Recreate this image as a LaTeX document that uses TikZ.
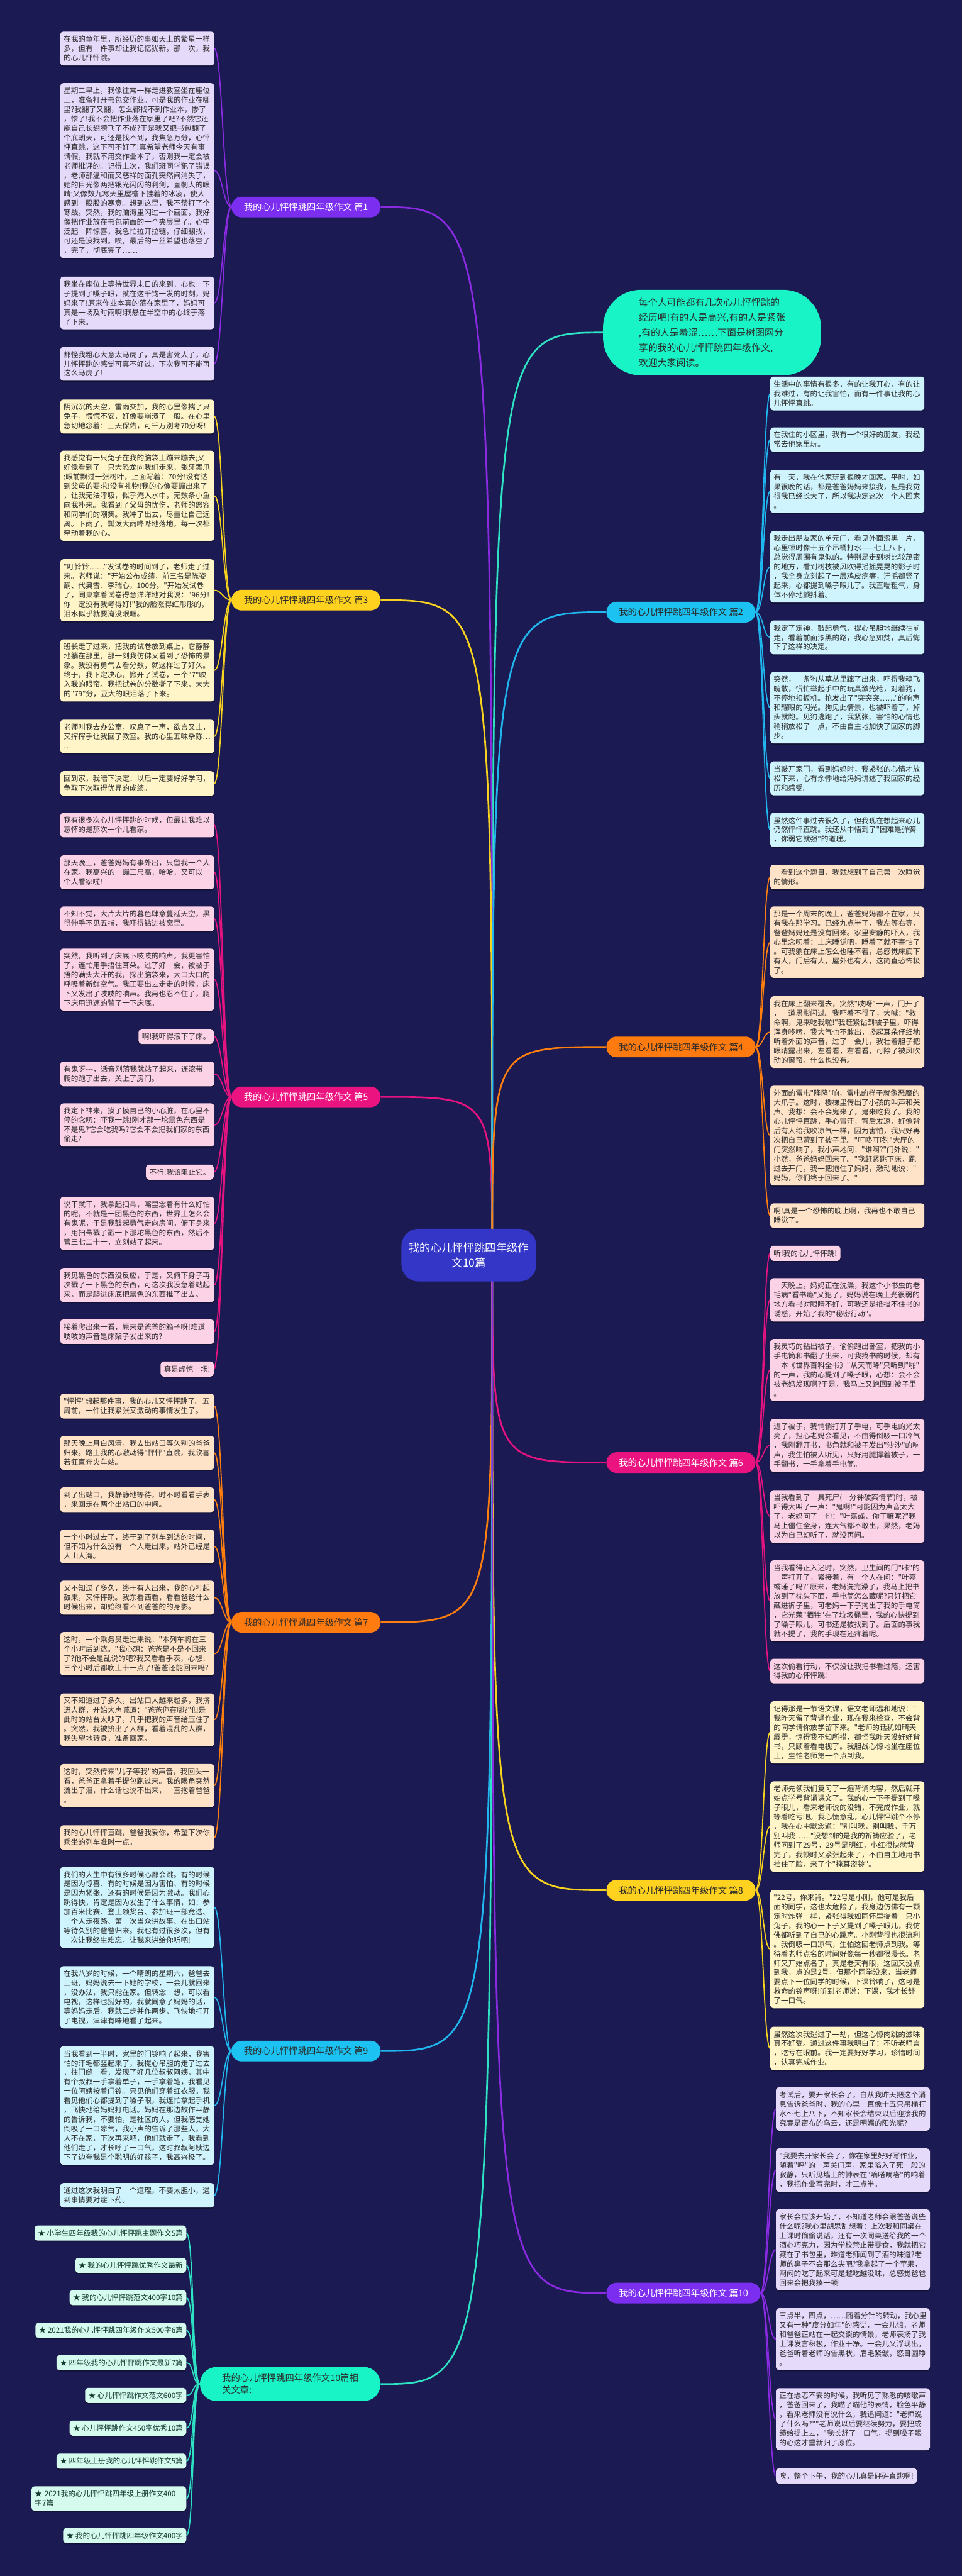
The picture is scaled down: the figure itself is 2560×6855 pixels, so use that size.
\documentclass[tikz,border=0pt]{standalone}
\usepackage{fontspec}
\newfontfamily\cjk{Noto Sans CJK SC}
\usetikzlibrary{shadows}
\pgfdeclarelayer{bgl}
\pgfdeclarelayer{edges}
\pgfsetlayers{bgl,edges,main}
\definecolor{bgc}{HTML}{1B1A52}
\definecolor{txtc}{HTML}{2A2A2A}
\definecolor{relt}{HTML}{123A30}
% line / pill / box colours
\definecolor{lP}{HTML}{8A2BE2}\definecolor{pP}{HTML}{7B2EF0}\definecolor{bP}{HTML}{E6DAFB}
\definecolor{lY}{HTML}{F7D21E}\definecolor{pY}{HTML}{FFD21F}\definecolor{bY}{HTML}{FFF5C8}
\definecolor{lK}{HTML}{E5137F}\definecolor{pK}{HTML}{EA1380}\definecolor{bK}{HTML}{FCD2E6}
\definecolor{lO}{HTML}{FF7F0E}\definecolor{pO}{HTML}{FF7B0F}\definecolor{bO}{HTML}{FFE3C8}
\definecolor{lC}{HTML}{1FB7EE}\definecolor{pC}{HTML}{1CC2F2}\definecolor{bC}{HTML}{D0F4FD}
\definecolor{lM}{HTML}{2DE3C3}\definecolor{pM}{HTML}{19F4C6}\definecolor{bM}{HTML}{D5FBEF}
\definecolor{cN}{HTML}{3436C8}
\tikzset{
  tb/.style={rectangle, rounded corners=8pt, inner xsep=9pt, inner ysep=11pt, align=left,
    font=\cjk\fontsize{19.5}{25}\selectfont, text=txtc,
    drop shadow={shadow xshift=0pt, shadow yshift=-3pt, opacity=.35, fill=black}},
  wb/.style={tb, text width=392pt, anchor=north west},
  sl/.style={tb, anchor=north east},
  sr/.style={tb, anchor=north west},
  rel/.style={tb, anchor=north east, text=relt, fill=bM},
  pill/.style={rectangle, rounded corners=27pt, minimum height=55pt, inner xsep=33pt, inner ysep=12pt,
    font=\cjk\fontsize{24}{29}\selectfont},
  pillL/.style={pill, anchor=east},
  pillR/.style={pill, anchor=west},
  mline/.style={line width=4.5pt},
  cline/.style={line width=3pt},
}
\newcommand\conL[3]{\draw[cline,#3] (#1.west) .. controls ([xshift=-21pt]#1.west) and ([xshift=21pt]#2.east) .. (#2.east);}
\newcommand\conR[3]{\draw[cline,#3] (#1.east) .. controls ([xshift=20pt]#1.east) and ([xshift=-18pt]#2.west) .. (#2.west);}
\begin{document}
\begin{tikzpicture}[x=1pt,y=-1pt]
\begin{pgfonlayer}{bgl}
\fill[bgc] (0,0) rectangle (2560,6855);
\end{pgfonlayer}
\useasboundingbox (0,0) rectangle (2560,6855);

% ---------------- centre and intro ----------------
\node[rectangle, rounded corners=45pt, fill=cN, text=white, minimum height=140pt, inner xsep=20pt, inner ysep=30pt,
  align=center, font=\cjk\fontsize{29}{40}\selectfont] (c) at (1248,3340) {我的心儿怦怦跳四年级作\\文10篇};
\coordinate (hub) at ([xshift=62pt]c.center);
\node[rectangle, rounded corners=100pt, fill=pM, text=txtc, anchor=west, inner xsep=95pt, inner ysep=22pt,
  align=left, font=\cjk\fontsize{25}{40}\selectfont] (intro) at (1605,885)
  {每个人可能都有几次心儿怦怦跳的\\经历吧!有的人是高兴,有的人是紧张\\,有的人是羞涩……下面是树图网分\\享的我的心儿怦怦跳四年级作文,\\欢迎大家阅读。};

% ---------------- pills ----------------
\node[pillL, fill=pP, text=white] (p1) at (1013,551) {我的心儿怦怦跳四年级作文 篇1};
\node[pillL, fill=pY, text=txtc] (p3) at (1013,1597) {我的心儿怦怦跳四年级作文 篇3};
\node[pillL, fill=pK, text=white] (p5) at (1013,2919) {我的心儿怦怦跳四年级作文 篇5};
\node[pillL, fill=pO, text=txtc] (p7) at (1013,4317) {我的心儿怦怦跳四年级作文 篇7};
\node[pillL, fill=pC, text=txtc] (p9) at (1013,5458) {我的心儿怦怦跳四年级作文 篇9};
\node[pill, anchor=east, fill=pM, text=txtc, rounded corners=45pt, minimum height=91pt, inner xsep=59pt,
  align=left, font=\cjk\fontsize{24}{31}\selectfont] (pr) at (1013,6344) {我的心儿怦怦跳四年级作文10篇相\\关文章:};
\node[pillR, fill=pC, text=txtc] (p2) at (1614,1629) {我的心儿怦怦跳四年级作文 篇2};
\node[pillR, fill=pO, text=txtc] (p4) at (1614,2786) {我的心儿怦怦跳四年级作文 篇4};
\node[pillR, fill=pK, text=white] (p6) at (1614,3892) {我的心儿怦怦跳四年级作文 篇6};
\node[pillR, fill=pY, text=txtc] (p8) at (1614,5030) {我的心儿怦怦跳四年级作文 篇8};
\node[pillR, fill=pP, text=white] (p10) at (1614,6102) {我的心儿怦怦跳四年级作文 篇10};

% ---------------- 篇1 ----------------
\node[wb, fill=bP] (b1a) at (160,84) {在我的童年里，所经历的事如天上的繁星一样\\多，但有一件事却让我记忆犹新，那一次，我\\的心儿怦怦跳。};
\node[wb, fill=bP] (b1b) at (160,221) {星期二早上，我像往常一样走进教室坐在座位\\上，准备打开书包交作业。可是我的作业在哪\\里?我翻了又翻，怎么都找不到作业本，惨了\\，惨了!我不会把作业落在家里了吧?不然它还\\能自己长翅膀飞了不成?于是我又把书包翻了\\个底朝天，可还是找不到，我焦急万分，心怦\\怦直跳，这下可不好了!真希望老师今天有事\\请假，我就不用交作业本了，否则我一定会被\\老师批评的。记得上次，我们班同学犯了错误\\，老师那温和而又慈祥的面孔突然间消失了，\\她的目光像两把银光闪闪的利剑，直刺人的眼\\睛;又像数九寒天里屋檐下挂着的冰凌，使人\\感到一股股的寒意。想到这里，我不禁打了个\\寒战。突然，我的脑海里闪过一个画面，我好\\像把作业放在书包前面的一个夹层里了。心中\\泛起一阵惊喜，我急忙拉开拉链，仔细翻找，\\可还是没找到。唉，最后的一丝希望也落空了\\，完了，彻底完了……};
\node[wb, fill=bP] (b1c) at (160,736) {我坐在座位上等待世界末日的来到，心也一下\\子提到了嗓子眼，就在这千钧一发的时刻，妈\\妈来了!原来作业本真的落在家里了，妈妈可\\真是一场及时雨啊!我悬在半空中的心终于落\\了下来。};
\node[wb, fill=bP] (b1d) at (160,923) {都怪我粗心大意太马虎了，真是害死人了，心\\儿怦怦跳的感觉可真不好过，下次我可不能再\\这么马虎了!};

% ---------------- 篇3 ----------------
\node[wb, fill=bY] (b3a) at (160,1063) {阴沉沉的天空，雷雨交加，我的心里像揣了只\\兔子，慌慌不安，好像要崩溃了一般。在心里\\急切地念着：上天保佑，可千万别考70分呀!};
\node[wb, fill=bY] (b3b) at (160,1199) {我感觉有一只兔子在我的脑袋上蹦来蹦去;又\\好像看到了一只大恐龙向我们走来，张牙舞爪\\;眼前飘过一张树叶，上面写着：70分!没有达\\到父母的要求!没有礼物!我的心像要蹦出来了\\，让我无法呼吸，似乎淹入水中，无数条小鱼\\向我扑来。我看到了父母的忧伤，老师的怒容\\和同学们的嘲笑。我冲了出去，尽量让自己远\\离。下雨了，瓢泼大雨哗哗地落地，每一次都\\牵动着我的心。};
\node[wb, fill=bY] (b3c) at (160,1488) {"叮铃铃……"发试卷的时间到了，老师走了过\\来。老师说："开始公布成绩，前三名是陈姿\\酮、代奥雪、李瑞心，100分。"开始发试卷\\了，同桌拿着试卷得意洋洋地对我说："96分!\\你一定没有我考得好!"我的脸涨得红彤彤的，\\泪水似乎就要淹没眼眶。};
\node[wb, fill=bY] (b3d) at (160,1701) {班长走了过来，把我的试卷放到桌上，它静静\\地躺在那里，那一刻我仿佛又看到了恐怖的景\\象。我没有勇气去看分数，就这样过了好久。\\终于，我下定决心，掀开了试卷，一个"7"映\\入我的眼帘。我把试卷的分数撕了下来，大大\\的"79"分，豆大的眼泪落了下来。};
\node[wb, fill=bY] (b3e) at (160,1915) {老师叫我去办公室，叹息了一声，欲言又止，\\又挥挥手让我回了教室。我的心里五味杂陈…\\…};
\node[wb, fill=bY] (b3f) at (160,2052) {回到家，我暗下决定：以后一定要好好学习，\\争取下次取得优异的成绩。};

% ---------------- 篇5 ----------------
\node[wb, fill=bK] (b5a) at (160,2163) {我有很多次心儿怦怦跳的时候，但最让我难以\\忘怀的是那次一个儿看家。};
\node[wb, fill=bK] (b5b) at (160,2276) {那天晚上，爸爸妈妈有事外出，只留我一个人\\在家。我高兴的一蹦三尺高，哈哈，又可以一\\个人看家啦!};
\node[wb, fill=bK] (b5c) at (160,2412) {不知不觉，大片大片的暮色肆意蔓延天空，黑\\得伸手不见五指，我吓得钻进被窝里。};
\node[wb, fill=bK] (b5d) at (160,2524) {突然，我听到了床底下吱吱的响声。我更害怕\\了，连忙用手捂住耳朵。过了好一会，被被子\\捂的满头大汗的我，探出脑袋来，大口大口的\\呼吸着新鲜空气。我正要出去走走的时候，床\\下又发出了吱吱的响声。我再也忍不住了，爬\\下床用迅速的瞥了一下床底。};
\node[sl, fill=bK] (b5e) at (569,2738) {啊!我吓得滚下了床。};
\node[wb, fill=bK] (b5f) at (160,2825) {有鬼呀---，话音刚落我就站了起来，连滚带\\爬的跑了出去，关上了房门。};
\node[wb, fill=bK] (b5g) at (160,2936) {我定下神来，摸了摸自己的小心脏，在心里不\\停的念叨：吓我一跳!刚才那一坨黑色东西是\\不是鬼?它会吃我吗?它会不会把我们家的东西\\偷走?};
\node[sl, fill=bK] (b5h) at (569,3099) {不行!我该阻止它。};
\node[wb, fill=bK] (b5i) at (160,3185) {说干就干，我拿起扫帚，嘴里念着有什么好怕\\的呢，不就是一团黑色的东西，世界上怎么会\\有鬼呢，于是我鼓起勇气走向房间。俯下身来\\，用扫帚戳了戳一下那坨黑色的东西，然后不\\管三七二十一，立刻站了起来。};
\node[wb, fill=bK] (b5j) at (160,3374) {我见黑色的东西没反应，于是，又俯下身子再\\次戳了一下黑色的东西，可这次我没急着站起\\来，而是爬进床底把黑色的东西推了出去。};
\node[wb, fill=bK] (b5k) at (160,3511) {接着爬出来一看，原来是爸爸的箱子呀!难道\\吱吱的声音是床架子发出来的?};
\node[sl, fill=bK] (b5l) at (569,3623) {真是虚惊一场!};

% ---------------- 篇7 ----------------
\node[wb, fill=bO] (b7a) at (160,3709) {"怦怦"想起那件事，我的心儿又怦怦跳了。五\\周前，一件让我紧张又激动的事情发生了。};
\node[wb, fill=bO] (b7b) at (160,3821) {那天晚上月白风清，我去出站口等久别的爸爸\\归来。路上我的心激动得"怦怦"直跳，我欣喜\\若狂直奔火车站。};
\node[wb, fill=bO] (b7c) at (160,3958) {到了出站口，我静静地等待，时不时看看手表\\，来回走在两个出站口的中间。};
\node[wb, fill=bO] (b7d) at (160,4070) {一个小时过去了，终于到了列车到达的时间，\\但不知为什么没有一个人走出来，站外已经是\\人山人海。};
\node[wb, fill=bO] (b7e) at (160,4206) {又不知过了多久，终于有人出来，我的心打起\\鼓来，又怦怦跳。我东看西看，看看爸爸什么\\时候出来，却始终看不到爸爸的的身影。};
\node[wb, fill=bO] (b7f) at (160,4343) {这时，一个乘务员走过来说："本列车将在三\\个小时后到达。"我心想：爸爸是不是不回来\\了?他不会是乱说的吧?我又看看手表，心想：\\三个小时后都晚上十一点了!爸爸还能回来吗?};
\node[wb, fill=bO] (b7g) at (160,4506) {又不知道过了多久，出站口人越来越多，我挤\\进人群，开始大声喊道："爸爸你在哪?"但是\\此时的站台太吵了，几乎把我的声音给压住了\\。突然，我被挤出了人群，看着混乱的人群，\\我失望地转身，准备回家。};
\node[wb, fill=bO] (b7h) at (160,4694) {这时，突然传来"儿子等我"的声音，我回头一\\看，爸爸正拿着手提包跑过来。我的眼角突然\\流出了泪，什么话也说不出来，一直抱着爸爸\\。};
\node[wb, fill=bO] (b7i) at (160,4857) {我的心儿怦怦直跳，爸爸我爱你，希望下次你\\乘坐的列车准时一点。};

% ---------------- 篇9 ----------------
\node[wb, fill=bC] (b9a) at (160,4968) {我们的人生中有很多时候心都会跳。有的时候\\是因为惊喜、有的时候是因为害怕、有的时候\\是因为紧张、还有的时候是因为激动。我们心\\跳得快，肯定是因为发生了什么事情，如：参\\加百米比赛、登上领奖台、参加班干部竞选、\\一个人走夜路、第一次当众讲故事、在出口站\\等待久别的爸爸归来。我也有过很多次，但有\\一次让我终生难忘，让我来讲给你听吧!};
\node[wb, fill=bC] (b9b) at (160,5232) {在我八岁的时候，一个晴朗的星期六，爸爸去\\上班，妈妈说去一下她的学校，一会儿就回来\\，没办法，我只能在家。但转念一想，可以看\\电视，这样也挺好的，我就同意了妈妈的话，\\等妈妈走后，我就三步并作两步，飞快地打开\\了电视，津津有味地看了起来。};
\node[wb, fill=bC] (b9c) at (160,5445) {当我看到一半时，家里的门铃响了起来，我害\\怕的汗毛都竖起来了，我提心吊胆的走了过去\\，往门缝一看，发现了好几位叔叔阿姨，其中\\有个叔叔一手拿着单子，一手拿着笔，我看见\\一位阿姨按着门铃。只见他们穿着红衣服。我\\看见他们心都提到了嗓子眼，我连忙拿起手机\\，飞快地给妈妈打电话。妈妈在那边故作平静\\的告诉我，不要怕，是社区的人，但我感觉她\\倒吸了一口凉气，我小声的告诉了那些人，大\\人不在家，下次再来吧，他们就走了，我看到\\他们走了，才长呼了一口气，这时叔叔阿姨边\\下了边夸我是个聪明的好孩子，我高兴极了。};
\node[wb, fill=bC] (b9d) at (160,5809) {通过这次我明白了一个道理，不要太胆小，遇\\到事情要对症下药。};

% ---------------- related ----------------
\node[rel] (r1) at (496,5922) {★ 小学生四年级我的心儿怦怦跳主题作文5篇};
\node[rel] (r2) at (496,6008) {★ 我的心儿怦怦跳优秀作文最新};
\node[rel] (r3) at (496,6094) {★ 我的心儿怦怦跳范文400字10篇};
\node[rel] (r4) at (496,6181) {★ 2021我的心儿怦怦跳四年级作文500字6篇};
\node[rel] (r5) at (496,6267) {★ 四年级我的心儿怦怦跳作文最新7篇};
\node[rel] (r6) at (496,6354) {★ 心儿怦怦跳作文范文600字};
\node[rel] (r7) at (496,6441) {★ 心儿怦怦跳作文450字优秀10篇};
\node[rel] (r8) at (496,6529) {★ 四年级上册我的心儿怦怦跳作文5篇};
\node[rel, text width=394pt] (r9) at (496,6616) {★ 2021我的心儿怦怦跳四年级上册作文400\\字7篇};
\node[rel] (r10) at (496,6727) {★ 我的心儿怦怦跳四年级作文400字};

% ---------------- 篇2 ----------------
\node[wb, fill=bC] (b2a) at (2050,1002) {生活中的事情有很多，有的让我开心，有的让\\我难过，有的让我害怕，而有一件事让我的心\\儿怦怦直跳。};
\node[wb, fill=bC] (b2b) at (2050,1137) {在我住的小区里，我有一个很好的朋友，我经\\常去他家里玩。};
\node[wb, fill=bC] (b2c) at (2050,1250) {有一天，我在他家玩到很晚才回家。平时，如\\果很晚的话，都是爸爸妈妈来接我，但是我觉\\得我已经长大了，所以我决定这次一个人回家\\。};
\node[wb, fill=bC] (b2d) at (2050,1413) {我走出朋友家的单元门，看见外面漆黑一片，\\心里顿时像十五个吊桶打水——七上八下，\\总觉得周围有鬼似的。特别是走到树比较茂密\\的地方，看到树枝被风吹得摇摇晃晃的影子时\\，我全身立刻起了一层鸡皮疙瘩，汗毛都竖了\\起来，心都提到嗓子眼儿了。我直喘粗气，身\\体不停地颤抖着。};
\node[wb, fill=bC] (b2e) at (2050,1651) {我定了定神，鼓起勇气，提心吊胆地继续往前\\走，看着前面漆黑的路，我心急如焚，真后悔\\下了这样的决定。};
\node[wb, fill=bC] (b2f) at (2050,1788) {突然，一条狗从草丛里蹿了出来，吓得我魂飞\\魄散，慌忙举起手中的玩具激光枪，对着狗，\\不停地扣扳机。枪发出了"突突突……"的响声\\和耀眼的闪光。狗见此情景，也被吓着了，掉\\头就跑。见狗逃跑了，我紧张、害怕的心情也\\稍稍放松了一点，不由自主地加快了回家的脚\\步。};
\node[wb, fill=bC] (b2g) at (2050,2026) {当敲开家门，看到妈妈时，我紧张的心情才放\\松下来，心有余悸地给妈妈讲述了我回家的经\\历和感受。};
\node[wb, fill=bC] (b2h) at (2050,2163) {虽然这件事过去很久了，但我现在想起来心儿\\仍然怦怦直跳。我还从中悟到了"困难是弹簧\\，你弱它就强"的道理。};

% ---------------- 篇4 ----------------
\node[wb, fill=bO] (b4a) at (2050,2301) {一看到这个题目，我就想到了自己第一次睡觉\\的情形。};
\node[wb, fill=bO] (b4b) at (2050,2412) {那是一个周末的晚上，爸爸妈妈都不在家，只\\有我在那学习。已经九点半了，我左等右等，\\爸爸妈妈还是没有回来。家里安静的吓人，我\\心里念叨着：上床睡觉吧，睡着了就不害怕了\\。可我躺在床上怎么也睡不着，总感觉床底下\\有人，门后有人，屋外也有人，这简直恐怖极\\了。};
\node[wb, fill=bO] (b4c) at (2050,2651) {我在床上翻来覆去，突然"吱呀"一声，门开了\\，一道黑影闪过。我吓着不得了，大喊："救\\命啊，鬼来吃我啦!"我赶紧钻到被子里，吓得\\浑身哆嗦，我大气也不敢出，竖起耳朵仔细地\\听着外面的声音，过了一会儿，我壮着胆子把\\眼睛露出来，左看看，右看看，可除了被风吹\\动的窗帘，什么也没有。};
\node[wb, fill=bO] (b4d) at (2050,2889) {外面的雷电"隆隆"响，雷电的样子就像恶魔的\\大爪子。这时，楼梯里传出了小孩的叫声和哭\\声。我想：会不会鬼来了，鬼来吃我了。我的\\心儿怦怦直跳，手心冒汗，背后发凉，好像背\\后有人给我吹凉气一样，因为害怕，我只好再\\次把自己蒙到了被子里。"叮咚叮咚!"大厅的\\门突然响了，我小声地问："谁啊?"门外说："\\小然，爸爸妈妈回来了。"我赶紧跳下床，跑\\过去开门，我一把抱住了妈妈，激动地说："\\妈妈，你们终于回来了。"};
\node[wb, fill=bO] (b4e) at (2050,3202) {啊!真是一个恐怖的晚上啊，我再也不敢自己\\睡觉了。};

% ---------------- 篇6 ----------------
\node[sr, fill=bK] (b6a) at (2050,3315) {听!我的心儿怦怦跳!};
\node[wb, fill=bK] (b6b) at (2050,3401) {一天晚上，妈妈正在洗澡，我这个小书虫的老\\毛病"看书瘾"又犯了，妈妈说在晚上光很弱的\\地方看书对眼睛不好，可我还是抵挡不住书的\\诱惑，开始了我的"秘密行动"。};
\node[wb, fill=bK] (b6c) at (2050,3563) {我灵巧的钻出被子，偷偷跑出卧室，把我的小\\手电筒和书翻了出来，可我找书的时候，却有\\一本《世界百科全书》"从天而降"只听到"啪"\\的一声，我的心提到了嗓子眼，心想：会不会\\被老妈发现啊?于是，我马上又跑回到被子里\\。};
\node[wb, fill=bK] (b6d) at (2050,3776) {进了被子，我悄悄打开了手电，可手电的光太\\亮了，担心老妈会看见，不由得倒吸一口冷气\\，我刚翻开书，书角就和被子发出"沙沙"的响\\声，我生怕被人听见，只好用腿撑着被子，一\\手翻书，一手拿着手电筒。};
\node[wb, fill=bK] (b6e) at (2050,3965) {当我看到了一具死尸(一分钟破案情节)时，被\\吓得大叫了一声："鬼啊!"可能因为声音太大\\了，老妈问了一句："叶嘉彧，你干嘛呢?"我\\马上僵住全身，连大气都不敢出，果然，老妈\\以为自己幻听了，就没再问。};
\node[wb, fill=bK] (b6f) at (2050,4152) {当我看得正入迷时，突然，卫生间的门"咔"的\\一声打开了，紧接着，有一个人在问："叶嘉\\彧睡了吗?"原来，老妈洗完澡了，我马上把书\\放到了枕头下面，手电筒怎么藏呢?只好把它\\藏进裤子里，可老妈一下子掏出了我的手电筒\\，它光荣"牺牲"在了垃圾桶里，我的心快提到\\了嗓子眼儿，可书还是被找到了。后面的事我\\就不提了，我的手现在还疼着呢。};
\node[wb, fill=bK] (b6g) at (2050,4414) {这次偷看行动，不仅没让我把书看过瘾，还害\\得我的心怦怦跳!};

% ---------------- 篇8 ----------------
\node[wb, fill=bY] (b8a) at (2050,4527) {记得那是一节语文课，语文老师温和地说："\\我昨天留了背诵作业，现在我来检查，不会背\\的同学请你放学留下来。"老师的话犹如晴天\\霹雳，惊得我不知所措，都怪我昨天没好好背\\书，只顾着看电视了。我胆战心惊地坐在座位\\上，生怕老师第一个点到我。};
\node[wb, fill=bY] (b8b) at (2050,4740) {老师先领我们复习了一遍背诵内容，然后就开\\始点学号背诵课文了。我的心一下子提到了嗓\\子眼儿，看来老师说的没错，不完成作业，就\\等着吃亏吧。我心慌意乱，心儿怦怦跳个不停\\，我在心中默念道："别叫我，别叫我，千万\\别叫我……"没想到的是我的祈祷应验了，老\\师问到了29号，29号是明红，小红很快就背\\完了，我顿时又紧张起来了，不由自主地用书\\挡住了脸，来了个"掩耳盗铃"。};
\node[wb, fill=bY] (b8c) at (2050,5029) {"22号，你来背。"22号是小刚，他可是我后\\面的同学，这也太危险了，我身边仿佛有一颗\\定时炸弹一样，紧张得我如同怀里揣着一只小\\兔子，我的心一下子又提到了嗓子眼儿，我仿\\佛都听到了自己的心跳声。小刚背得也很流利\\。我倒吸一口凉气，生怕这回老师点到我。等\\待着老师点名的时间好像每一秒都很漫长。老\\师又开始点名了，真是老天有眼，这回又没点\\到我，点的是2号，但那个同学没来，当老师\\要点下一位同学的时候，下课铃响了，这可是\\救命的铃声呀!听到老师说：下课，我才长舒\\了一口气。};
\node[wb, fill=bY] (b8d) at (2050,5393) {虽然这次我逃过了一劫，但这心惊肉跳的滋味\\真不好受。通过这件事我明白了：不听老师言\\，吃亏在眼前。我一定要好好学习，珍惜时间\\，认真完成作业。};

% ---------------- 篇10 ----------------
\node[wb, fill=bP] (b10a) at (2065,5554) {考试后，要开家长会了，自从我昨天把这个消\\息告诉爸爸时，我的心里一直像十五只吊桶打\\水～七上八下，不知家长会结束以后迎接我的\\究竟是密布的乌云，还是明媚的阳光呢?};
\node[wb, fill=bP] (b10b) at (2065,5717) {"我要去开家长会了，你在家里好好写作业，\\随着"呯"的一声关门声，家里陷入了死一般的\\寂静，只听见墙上的钟表在"嘀嗒嘀嗒"的响着\\，我把作业写完时，才三点半。};
\node[wb, fill=bP] (b10c) at (2065,5879) {家长会应该开始了，不知道老师会跟爸爸说些\\什么呢?我心里胡思乱想着：上次我和同桌在\\上课时偷偷说话，还有一次同桌送给我的一个\\酒心巧克力，因为学校禁止带零食，我就把它\\藏在了书包里，难道老师闻到了酒的味道?老\\师的鼻子不会那么尖吧?我拿起了一个苹果，\\闷闷的吃了起来可是越吃越没味，总感觉爸爸\\回来会把我揍一顿!};
\node[wb, fill=bP] (b10d) at (2065,6142) {三点半，四点，……随着分针的转动，我心里\\又有一种"度分如年"的感觉，一会儿想，老师\\和爸爸正站在一起交谈的情景，老师表扬了我\\上课发言积极，作业干净。一会儿又浮现出，\\爸爸听着老师的告黑状，眉毛紧皱，怒目圆睁\\。};
\node[wb, fill=bP] (b10e) at (2065,6355) {正在忐忑不安的时候，我听见了熟悉的咳嗽声\\，爸爸回来了，我瞄了瞄他的表情，脸色平静\\，看来老师没有说什么，我追问道："老师说\\了什么吗?""老师说以后要继续努力，要把成\\绩给提上去，"我长舒了一口气，提到嗓子眼\\的心这才重新归了原位。};
\node[sr, fill=bP] (b10f) at (2065,6568) {唉，整个下午，我的心儿真是砰砰直跳啊!};

% ---------------- connectors ----------------
\begin{pgfonlayer}{edges}
\draw[mline, lM] (hub) .. controls (hub |- intro.west) .. (intro.west);
\draw[mline, lP] (hub) .. controls (hub |- p1.east) .. (p1.east);
\draw[mline, lY] (hub) .. controls (hub |- p3.east) .. (p3.east);
\draw[mline, lK] (hub) .. controls (hub |- p5.east) .. (p5.east);
\draw[mline, lO] (hub) .. controls (hub |- p7.east) .. (p7.east);
\draw[mline, lC] (hub) .. controls (hub |- p9.east) .. (p9.east);
\draw[mline, lM] (hub) .. controls (hub |- pr.east) .. (pr.east);
\draw[mline, lC] (hub) .. controls (hub |- p2.west) .. (p2.west);
\draw[mline, lO] (hub) .. controls (hub |- p4.west) .. (p4.west);
\draw[mline, lK] (hub) .. controls (hub |- p6.west) .. (p6.west);
\draw[mline, lY] (hub) .. controls (hub |- p8.west) .. (p8.west);
\draw[mline, lP] (hub) .. controls (hub |- p10.west) .. (p10.west);
\foreach \b in {b1a,b1b,b1c,b1d}{\conL{p1}{\b}{lP}}
\foreach \b in {b3a,b3b,b3c,b3d,b3e,b3f}{\conL{p3}{\b}{lY}}
\foreach \b in {b5a,b5b,b5c,b5d,b5e,b5f,b5g,b5h,b5i,b5j,b5k,b5l}{\conL{p5}{\b}{lK}}
\foreach \b in {b7a,b7b,b7c,b7d,b7e,b7f,b7g,b7h,b7i}{\conL{p7}{\b}{lO}}
\foreach \b in {b9a,b9b,b9c,b9d}{\conL{p9}{\b}{lC}}
\foreach \b in {r1,r2,r3,r4,r5,r6,r7,r8,r9,r10}{\conL{pr}{\b}{lM}}
\foreach \b in {b2a,b2b,b2c,b2d,b2e,b2f,b2g,b2h}{\conR{p2}{\b}{lC}}
\foreach \b in {b4a,b4b,b4c,b4d,b4e}{\conR{p4}{\b}{lO}}
\foreach \b in {b6a,b6b,b6c,b6d,b6e,b6f,b6g}{\conR{p6}{\b}{lK}}
\foreach \b in {b8a,b8b,b8c,b8d}{\conR{p8}{\b}{lY}}
\foreach \b in {b10a,b10b,b10c,b10d,b10e,b10f}{\conR{p10}{\b}{lP}}
\end{pgfonlayer}
\end{tikzpicture}
\end{document}
